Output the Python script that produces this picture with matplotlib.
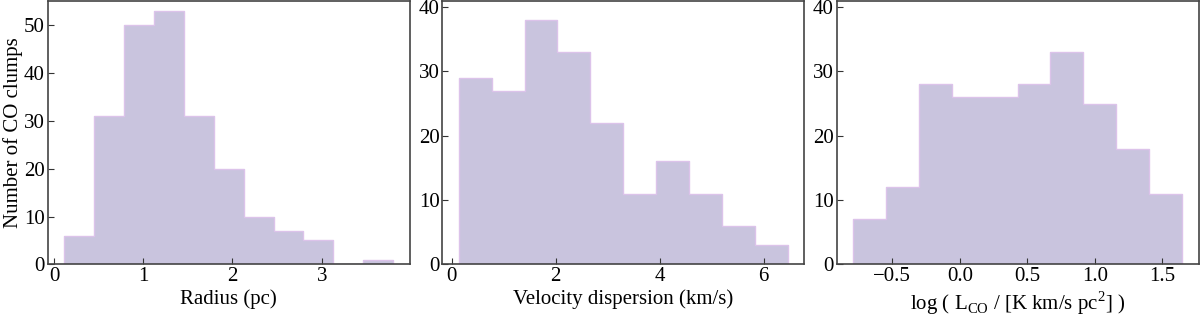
import matplotlib
matplotlib.use("Agg")
import matplotlib.pyplot as plt
import numpy as np

# bin edges and counts
radius_edges = [0.115, 0.450, 0.785, 1.120, 1.455, 1.790, 2.125, 2.460, 2.795, 3.130, 3.465, 3.800]
radius_counts = [6, 31, 50, 53, 31, 20, 10, 7, 5, 0, 1]

sigma_edges = [0.134, 0.767, 1.400, 2.033, 2.666, 3.299, 3.932, 4.565, 5.198, 5.831, 6.464]
sigma_counts = [29, 27, 38, 33, 22, 11, 16, 11, 6, 3]

lco_edges = [-0.790, -0.546, -0.303, -0.059, 0.184, 0.428, 0.671, 0.915, 1.159, 1.402, 1.646]
lco_counts = [7, 12, 28, 26, 26, 28, 33, 25, 18, 11]

xlabels = ["Radius (pc)", "Velocity dispersion (km/s)",
           r"log ( L$_{\rm CO}$ / [K km/s pc$^{2}$] )"]

plt.rcParams['font.family'] = ['Liberation Serif', 'DejaVu Serif']
plt.rcParams['mathtext.fontset'] = 'custom'
plt.rcParams['mathtext.rm'] = 'Liberation Serif'
plt.rcParams['font.size'] = 15

fig = plt.figure(figsize=(12, 3.14), dpi=100)
lefts = [0.0398, 0.3686, 0.6973]
axes = [fig.add_axes([l, 0.158, 0.3015, 0.840]) for l in lefts]

data = [(radius_edges, radius_counts), (sigma_edges, sigma_counts), (lco_edges, lco_counts)]
for ax, (edges, counts), lab in zip(axes, data, xlabels):
    edges = np.array(edges)
    ax.hist(edges[:-1], bins=edges, weights=counts, histtype='stepfilled',
            facecolor='#c9c4de', edgecolor='#dcc3ea', linewidth=1)
    ax.set_xlabel(lab, labelpad=2)
    ax.tick_params(direction='in', length=4, color='#333333', pad=2)
    for s in ax.spines.values():
        s.set_color('#444444')
        s.set_linewidth(1.2)

axes[0].set_ylabel("Number of CO clumps", labelpad=1)
axes[0].set_ylim(0, 55.1)
axes[0].set_yticks([0, 10, 20, 30, 40, 50])
axes[0].set_xticks([0, 1, 2, 3])
axes[1].set_ylim(0, 41)
axes[1].set_yticks([0, 10, 20, 30, 40])
axes[1].set_xticks([0, 2, 4, 6])
axes[2].set_ylim(0, 41)
axes[2].set_yticks([0, 10, 20, 30, 40])
axes[2].set_xticks([-0.5, 0.0, 0.5, 1.0, 1.5])
axes[2].set_xticklabels(["\u22120.5", "0.0", "0.5", "1.0", "1.5"])

fig.savefig("out.png", dpi=100)
